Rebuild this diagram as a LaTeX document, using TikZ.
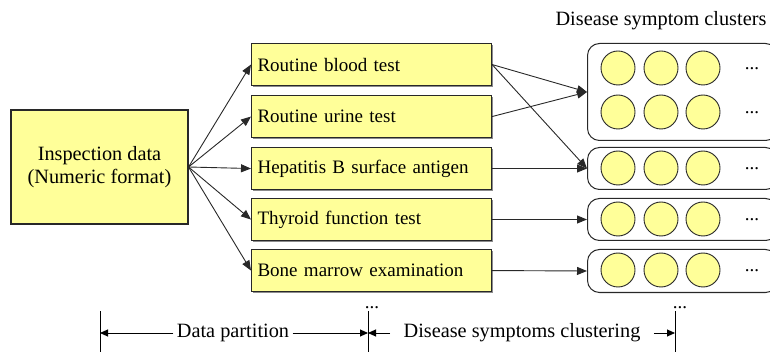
\documentclass[tikz,border=0pt]{standalone}
\usepackage{fontspec}
\setmainfont{Liberation Serif}
\usetikzlibrary{arrows.meta,shadows}
\definecolor{paleyellow}{RGB}{255,255,153}
\definecolor{edgegray}{RGB}{40,40,40}
\begin{document}
\begin{tikzpicture}[x=1pt,y=-1pt,
  font=\fontsize{20.3}{23.5}\selectfont,
  shadowed/.style={drop shadow={shadow xshift=1.2pt,shadow yshift=-1.2pt,fill=black!45,opacity=1}},
  databox/.style={draw=edgegray,fill=paleyellow,line width=1.1pt,align=center,
    minimum width=177pt,minimum height=114pt,inner sep=0pt,shadowed},
  testbox/.style={draw=edgegray,fill=paleyellow,line width=1.1pt,
    font=\fontsize{19}{22}\selectfont,
    minimum height=42pt,text width=228pt,inner xsep=6pt,inner ysep=0pt,
    align=left,anchor=north west,shadowed},
  clusterbox/.style={draw=edgegray,line width=1pt,rounded corners=12pt,
    minimum width=190pt,anchor=north west,inner sep=0pt},
  sym/.style={circle,draw=edgegray,fill=paleyellow,line width=0.9pt,
    minimum size=34pt,inner sep=0pt},
  more/.style={anchor=base,inner sep=0pt,font=\fontsize{19}{22}\selectfont},
  link/.style={draw=edgegray,line width=0.9pt,-{Triangle[length=10pt,width=8pt]}},
  dim/.style={draw=black,line width=0.9pt,-{Triangle[length=8pt,width=7pt]}},
  tick/.style={draw=black,line width=0.9pt}
]
\useasboundingbox (0,0) rectangle (770,352);

% source data
\node[databox] (data) at (99.5,167) {Inspection data\\(Numeric format)};

% examination categories
\node[testbox] (t1) at (251,43)  {Routine blood test};
\node[testbox] (t2) at (251,95)  {Routine urine test};
\node[testbox] (t3) at (251,147) {Hepatitis B surface antigen};
\node[testbox] (t4) at (251,198) {Thyroid function test};
\node[testbox] (t5) at (251,249) {Bone marrow examination};
\node[more] (tmore) at (372,308) {...};

\foreach \t in {t1,t2,t3,t4,t5}
  \draw[link] (data.east) -- (\t.west);

% symptom clusters
\node[anchor=base] (title) at (661,26) {Disease symptom clusters};

\node[clusterbox,minimum height=97pt] (c1) at (587,43) {};
\node[clusterbox,minimum height=42pt] (c2) at (587,147) {};
\node[clusterbox,minimum height=42pt] (c3) at (587,198) {};
\node[clusterbox,minimum height=43pt] (c4) at (587,249) {};

\foreach \r/\y in {a/68,b/112,c/168,d/219,e/270}{
  \node[sym] (s\r1) at (618,\y) {};
  \node[sym] (s\r2) at (661,\y) {};
  \node[sym] (s\r3) at (703,\y) {};
  \node[more] (m\r) at (752,\y+2) {...};
}
\node[more] (cmore) at (680,308) {...};

% category to cluster links
\draw[link] (t1.east) -- (c1.west);
\draw[link] (t2.east) -- (c1.west);
\draw[link] (t1.east) -- (c2.west);
\draw[link] (t3.east) -- (c2.west);
\draw[link] (t4.east) -- (c3.west);
\draw[link] (t5.east) -- (c4.west);

% stage extents
\coordinate (p0) at (100,311);  \coordinate (q0) at (100,352);
\coordinate (p1) at (368,311);  \coordinate (q1) at (368,352);
\coordinate (p2) at (675,311);  \coordinate (q2) at (675,352);
\draw[tick] (p0) -- (q0);
\draw[tick] (p1) -- (q1);
\draw[tick] (p2) -- (q2);

\coordinate (d0) at (100,333);
\coordinate (d1) at (368,333);
\coordinate (d2) at (675,333);
\node (part) at (233,333) {Data partition};
\node (clus) at (522,333) {Disease symptoms clustering};
\draw[dim] (part.west) -- (d0);
\draw[dim] (part.east) -- (d1);
\draw[dim] ([xshift=-10pt]clus.west) -- (d1);
\draw[dim] ([xshift=10pt]clus.east) -- (d2);
\end{tikzpicture}
\end{document}
